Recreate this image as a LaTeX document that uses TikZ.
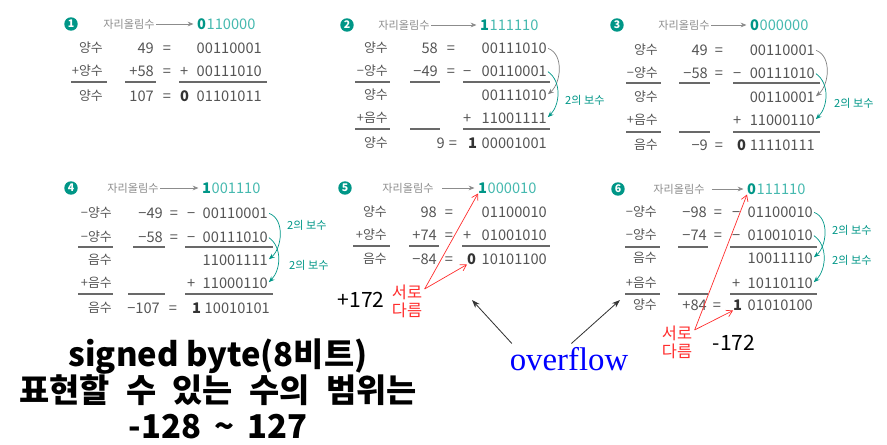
\documentclass[tikz,border=0pt]{standalone}
\usepackage{fontspec}
\usepackage{tikz}
\usetikzlibrary{arrows.meta,positioning}
\newfontfamily\kr{Noto Sans CJK KR}
\newfontfamily\tnr{Liberation Serif}
\definecolor{tealdk}{RGB}{0,150,135}
\definecolor{teallt}{RGB}{70,185,175}
\definecolor{txtgray}{RGB}{85,85,85}
\definecolor{lblgray}{RGB}{140,140,140}
\definecolor{rulegray}{RGB}{105,105,105}
\definecolor{redmark}{RGB}{255,45,45}

\tikzset{
  lbl/.style={font=\kr\fontsize{11}{12}\selectfont, text=txtgray, anchor=east, inner sep=0pt,
    text height=0.82em, text depth=0.08em},
  num/.style={font=\kr\fontsize{12.5}{13}\selectfont, text=txtgray, anchor=east, inner sep=0pt,
    text height=9pt, text depth=0pt},
  opr/.style={num, anchor=west},
  eqs/.style={num, anchor=center},
  cout/.style={num, anchor=west, font=\kr\bfseries\fontsize{12.5}{13}\selectfont, text=black!80},
  carrylbl/.style={font=\kr\fontsize{9.5}{10}\selectfont, text=lblgray, anchor=west, inner sep=1pt},
  carry/.style={font=\kr\fontsize{12.5}{13}\selectfont, text=teallt, anchor=west, inner sep=0pt,
    text height=9pt, text depth=0pt},
  carryb/.style={carry, font=\kr\bfseries\fontsize{12.5}{13}\selectfont, text=tealdk},
  badge/.style={circle, fill=tealdk, text=white, font=\kr\bfseries\fontsize{9}{9}\selectfont, inner sep=0pt, minimum size=11.5pt},
  sumline/.style={draw=rulegray, line width=1.1pt},
  karr/.style={-{Stealth[length=5pt,width=4pt]}, draw=lblgray, line width=0.6pt, shorten >=3pt},
  twoc/.style={-{Stealth[length=5pt,width=4pt]}, draw=tealdk, line width=0.6pt, shorten <=1pt, shorten >=1pt},
  twog/.style={twoc, draw=gray},
  twolbl/.style={font=\kr\fontsize{9.5}{10}\selectfont, text=tealdk, anchor=west, inner sep=0pt},
  diff/.style={font=\kr\fontsize{14}{15.5}\selectfont, text=redmark, align=center, inner sep=0pt},
  redarr/.style={-{Straight Barb[length=5pt,width=6pt]}, draw=redmark, line width=0.6pt},
  ovarr/.style={-{Stealth[length=7pt,width=5pt]}, draw=black!80, line width=0.7pt},
}

\begin{document}
\begin{tikzpicture}[x=0.03cm,y=-0.03cm]
	\useasboundingbox (0,0) rectangle (887,445);

	% 1: 49 + 58
	\node[badge] (p1no) at (71,24) {1};
	\node[carrylbl] (p1k) at (102,24) {자리올림수};
	\node[carryb] (p1cb) at (197,24) {0};
	\node[carry, right=0pt of p1cb] (p1cr) {110000};
	\draw[karr] (p1k) -- (p1cb);
	\node[lbl] (p1l1) at (103,48) {양수};
	\node[num] (p1n1) at (154,48) {49};
	\node[eqs] (p1e1) at (167,48) {=};
	\node[num] (p1a) at (262,48) {00110001};
	\node[lbl] (p1l2) at (103,71) {+양수};
	\node[num] (p1n2) at (154,71) {+58};
	\node[eqs] (p1e2) at (167,71) {=};
	\node[opr] (p1o2) at (180,71) {+};
	\node[num] (p1b) at (262,71) {00111010};
	\draw[sumline] (71,82) -- (107,82) (125,82) -- (156,82) (179,82) -- (267,82);
	\node[lbl] (p1l3) at (103,96) {양수};
	\node[num] (p1n3) at (154,96) {107};
	\node[eqs] (p1e3) at (167,96) {=};
	\node[cout] (p1co) at (180,96) {0};
	\node[num] (p1r) at (262,96) {01101011};

	% 2: 58 - 49
	\node[badge] (p2no) at (347,25) {2};
	\node[carrylbl] (p2k) at (377,25) {자리올림수};
	\node[carryb] (p2cb) at (480,25) {1};
	\node[carry, right=0pt of p2cb] (p2cr) {111110};
	\draw[karr] (p2k) -- (p2cb);
	\node[lbl] (p2l1) at (388,48) {양수};
	\node[num] (p2n1) at (438,48) {58};
	\node[eqs] (p2e1) at (451,48) {=};
	\node[num] (p2a) at (547,48) {00111010};
	\node[lbl] (p2l2) at (388,71) {−양수};
	\node[num] (p2n2) at (438,71) {−49};
	\node[eqs] (p2e2) at (451,71) {=};
	\node[opr] (p2o2) at (463,71) {−};
	\node[num] (p2b) at (547,71) {00110001};
	\draw[sumline] (355,82) -- (390,82) (410,82) -- (440,82) (463,82) -- (550,82);
	\node[lbl] (p2l3) at (388,95) {양수};
	\node[num] (p2m) at (547,95) {00111010};
	\node[lbl] (p2l4) at (388,118) {+음수};
	\node[opr] (p2o4) at (463,118) {+};
	\node[num] (p2n) at (547,118) {11001111};
	\draw[sumline] (355,129) -- (390,129) (410,129) -- (440,129) (463,129) -- (550,129);
	\node[lbl] (p2l5) at (388,143) {양수};
	\node[num] (p2n5) at (445,143) {9};
	\node[eqs] (p2e5) at (453,143) {=};
	\node[cout] (p2co) at (468,143) {1};
	\node[num] (p2r) at (547,143) {00001001};
	\draw[twog] (p2a.east) to[out=-20,in=40] (p2m.east);
	\draw[twoc] (p2b.east) to[out=-35,in=45] (p2n.east);
	\node[twolbl] (p2t) at (565,100) {2의 보수};

	% 3: 49 - 58
	\node[badge] (p3no) at (617,25) {3};
	\node[carrylbl] (p3k) at (657,25) {자리올림수};
	\node[carryb] (p3cb) at (750,25) {0};
	\node[carry, right=0pt of p3cb] (p3cr) {000000};
	\draw[karr] (p3k) -- (p3cb);
	\node[lbl] (p3l1) at (658,50) {양수};
	\node[num] (p3n1) at (708,50) {49};
	\node[eqs] (p3e1) at (719,50) {=};
	\node[num] (p3a) at (815,50) {00110001};
	\node[lbl] (p3l2) at (658,73) {−양수};
	\node[num] (p3n2) at (708,73) {−58};
	\node[eqs] (p3e2) at (719,73) {=};
	\node[opr] (p3o2) at (733,73) {−};
	\node[num] (p3b) at (815,73) {00111010};
	\draw[sumline] (626,83) -- (661,83) (679,83) -- (710,83) (733,83) -- (820,83);
	\node[lbl] (p3l3) at (658,97) {양수};
	\node[num] (p3m) at (815,97) {00110001};
	\node[lbl] (p3l4) at (658,120) {+음수};
	\node[opr] (p3o4) at (733,120) {+};
	\node[num] (p3n) at (815,120) {11000110};
	\draw[sumline] (626,132) -- (661,132) (679,132) -- (710,132) (733,132) -- (820,132);
	\node[lbl] (p3l5) at (658,145) {음수};
	\node[num] (p3n5) at (708,145) {−9};
	\node[eqs] (p3e5) at (719,145) {=};
	\node[cout] (p3co) at (737,145) {0};
	\node[num] (p3r) at (815,145) {11110111};
	\draw[twog] (p3a.east) to[out=-20,in=40] (p3m.east);
	\draw[twoc] (p3b.east) to[out=-35,in=45] (p3n.east);
	\node[twolbl] (p3t) at (834,103) {2의 보수};

	% 4: -49 - 58
	\node[badge] (p4no) at (71,188) {4};
	\node[carrylbl] (p4k) at (106,188) {자리올림수};
	\node[carryb] (p4cb) at (202,188) {1};
	\node[carry, right=0pt of p4cb] (p4cr) {001110};
	\draw[karr] (p4k) -- (p4cb);
	\node[lbl] (p4l1) at (112,213) {−양수};
	\node[num] (p4n1) at (163,213) {−49};
	\node[eqs] (p4e1) at (174,213) {=};
	\node[opr] (p4o1) at (187,213) {−};
	\node[num] (p4a) at (268,213) {00110001};
	\node[lbl] (p4l2) at (112,237) {−양수};
	\node[num] (p4n2) at (163,237) {−58};
	\node[eqs] (p4e2) at (174,237) {=};
	\node[opr] (p4o2) at (187,237) {−};
	\node[num] (p4b) at (268,237) {00111010};
	\draw[sumline] (78,247) -- (113,247) (133,247) -- (165,247) (185,247) -- (273,247);
	\node[lbl] (p4l3) at (112,260) {음수};
	\node[num] (p4m) at (268,260) {11001111};
	\node[lbl] (p4l4) at (112,283) {+음수};
	\node[opr] (p4o4) at (187,283) {+};
	\node[num] (p4n) at (268,283) {11000110};
	\draw[sumline] (78,294) -- (113,294) (128,294) -- (165,294) (185,294) -- (273,294);
	\node[lbl] (p4l5) at (112,308) {음수};
	\node[num] (p4n5) at (160,308) {−107};
	\node[eqs] (p4e5) at (173,308) {=};
	\node[cout] (p4co) at (192,308) {1};
	\node[num] (p4r) at (270,308) {10010101};
	\draw[twoc] (p4a.east) to[out=-20,in=40] (p4m.east);
	\draw[twoc] (p4b.east) to[out=-35,in=45] (p4n.east);
	\node[twolbl] (p4t1) at (287,225) {2의 보수};
	\node[twolbl] (p4t2) at (289,265) {2의 보수};

	% 5: 98 + 74
	\node[badge] (p5no) at (345,188) {5};
	\node[carrylbl] (p5k) at (381,188) {자리올림수};
	\node[carryb] (p5cb) at (478,188) {1};
	\node[carry, right=0pt of p5cb] (p5cr) {000010};
	\draw[karr, shorten <=6pt] (p5k) -- (p5cb);
	\node[lbl] (p5l1) at (387,212) {양수};
	\node[num] (p5n1) at (437,212) {98};
	\node[eqs] (p5e1) at (449,212) {=};
	\node[num] (p5a) at (547,212) {01100010};
	\node[lbl] (p5l2) at (387,235) {+양수};
	\node[num] (p5n2) at (437,235) {+74};
	\node[eqs] (p5e2) at (449,235) {=};
	\node[opr] (p5o2) at (463,235) {+};
	\node[num] (p5b) at (547,235) {01001010};
	\draw[sumline] (353,246) -- (390,246) (409,246) -- (439,246) (462,246) -- (550,246);
	\node[lbl] (p5l3) at (387,259) {음수};
	\node[num] (p5n3) at (437,259) {−84};
	\node[eqs] (p5e3) at (449,259) {=};
	\node[cout] (p5co) at (467,259) {0};
	\node[num] (p5r) at (547,259) {10101100};
	\node[diff] (p5diff) at (407,301) {서로\\다름};
	\node[font=\kr\fontsize{18}{18}\selectfont, inner sep=0pt] (p5val) at (361,300) {+172};
	\draw[redarr] ([xshift=2pt,yshift=-4pt]p5diff.north east) -- (p5cb.south west);
	\draw[redarr] ([xshift=2pt,yshift=-4pt]p5diff.north east) -- (p5co.south west);

	% 6: -98 - 74
	\node[badge] (p6no) at (618,189) {6};
	\node[carrylbl] (p6k) at (652,189) {자리올림수};
	\node[carryb] (p6cb) at (747,189) {0};
	\node[carry, right=0pt of p6cb] (p6cr) {111110};
	\draw[karr, shorten <=5pt] (p6k) -- (p6cb);
	\node[lbl] (p6l1) at (657,212) {−양수};
	\node[num] (p6n1) at (707,212) {−98};
	\node[eqs] (p6e1) at (718,212) {=};
	\node[opr] (p6o1) at (732,212) {−};
	\node[num] (p6a) at (813,212) {01100010};
	\node[lbl] (p6l2) at (657,235) {−양수};
	\node[num] (p6n2) at (707,235) {−74};
	\node[eqs] (p6e2) at (718,235) {=};
	\node[opr] (p6o2) at (732,235) {−};
	\node[num] (p6b) at (813,235) {01001010};
	\draw[sumline] (625,247) -- (660,247) (678,247) -- (708,247) (730,247) -- (817,247);
	\node[lbl] (p6l3) at (657,258) {음수};
	\node[num] (p6m) at (813,258) {10011110};
	\node[lbl] (p6l4) at (657,283) {+음수};
	\node[opr] (p6o4) at (732,283) {+};
	\node[num] (p6n) at (813,283) {10110110};
	\draw[sumline] (625,294) -- (660,294) (678,294) -- (708,294) (730,294) -- (817,294);
	\node[lbl] (p6l5) at (657,305) {양수};
	\node[num] (p6n5) at (707,305) {+84};
	\node[eqs] (p6e5) at (717,305) {=};
	\node[cout] (p6co) at (733,305) {1};
	\node[num] (p6r) at (813,305) {01010100};
	\draw[twoc] (p6a.east) to[out=-20,in=40] (p6m.east);
	\draw[twoc] (p6b.east) to[out=-35,in=45] (p6n.east);
	\node[twolbl] (p6t1) at (832,230) {2의 보수};
	\node[twolbl] (p6t2) at (832,260) {2의 보수};
	\node[diff] (p6diff) at (677,342) {서로\\다름};
	\node[font=\kr\fontsize{18}{18}\selectfont, inner sep=0pt] (p6val) at (734,343) {-172};
	\draw[redarr] ([xshift=2pt,yshift=-4pt]p6diff.north east) -- (p6cb.south west);
	\draw[redarr] ([xshift=2pt,yshift=-4pt]p6diff.north east) -- (p6co.south west);

	% overflow
	\node[font=\tnr\fontsize{28}{28}\selectfont, text=blue, inner sep=0pt] (over) at (569,359) {overflow};
	\coordinate (ovl) at (472,300);
	\coordinate (ovr) at (620,300);
	\draw[ovarr] ([xshift=2pt,yshift=3pt]over.north west) -- (ovl);
	\draw[ovarr] ([xshift=2pt,yshift=3pt]over.north) -- (ovr);

	\node[font=\kr\bfseries\fontsize{28}{30.5}\selectfont, align=center, inner sep=0pt] (range) at (218,389)
	   {signed byte(8비트)\\표현할\hspace{0.5em}수\hspace{0.5em}있는\hspace{0.5em}수의\hspace{0.5em}범위는\\-128\hspace{0.4em}\textasciitilde\hspace{0.4em}127};
\end{tikzpicture}
\end{document}
